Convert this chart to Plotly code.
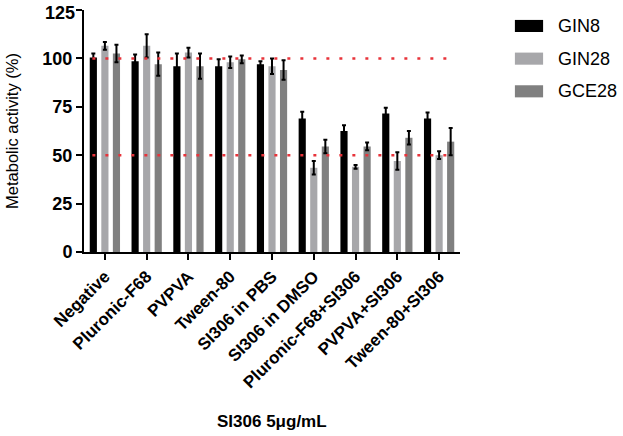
import plotly.graph_objects as go

categories = ["Negative", "Pluronic-F68", "PVPVA", "Tween-80", "SI306 in PBS",
              "SI306 in DMSO", "Pluronic-F68+SI306", "PVPVA+SI306", "Tween-80+SI306"]
series_names = ["GIN8", "GIN28", "GCE28"]
gin8 = [100.5, 98.5, 96, 96, 97, 69, 62.5, 71.5, 69]
gin8_err = [2, 3.5, 6.5, 3.5, 1.5, 3.5, 3, 3, 3]
gin28 = [106.5, 106.5, 103, 98, 96, 43.5, 44, 47, 50]
gin28_err = [2, 6, 2.5, 3, 4, 3.5, 1, 4.5, 2]
gce28 = [102.5, 97, 96, 99.5, 94, 54.5, 54.5, 59, 57]
gce28_err = [4.5, 6, 6.5, 2, 5, 3.5, 2, 3.5, 7]
colors = ["#000000", "#A7A7AA", "#808080"]
ref_lines = [100, 50]
y_ticks = [0, 25, 50, 75, 100, 125]
y_top = 125
y_ticktext = [str(v) if v != y_top else "" for v in y_ticks]

FONT = "Liberation Sans, Arial, sans-serif"

fig = go.Figure()
for name, vals, errs, col in zip(series_names, [gin8, gin28, gce28],
                                 [gin8_err, gin28_err, gce28_err], colors):
    fig.add_trace(go.Bar(
        x=categories, y=vals, name=name, marker=dict(color=col, line=dict(width=0)),
        error_y=dict(type="data", array=errs, color="#000000", thickness=2, width=2),
        showlegend=False,
    ))

for v in ref_lines:
    fig.add_shape(type="line", xref="x", yref="y", x0=-0.3, x1=8.35, y0=v, y1=v,
                  line=dict(color="#E8333A", width=2.5, dash="3px,10px"), layer="above")

# top tick label (plotly drops it at the very edge of the figure)
fig.add_annotation(xref="paper", yref="y", x=0, y=y_top, text="<b>%d</b>" % y_top,
                   showarrow=False, xanchor="right", yanchor="middle", xshift=-7, yshift=-3,
                   font=dict(family=FONT, size=18, color="#000"))

# legend (manual, to match the wide swatches of the reference)
leg_y = [0.934, 0.799, 0.664]
for name, col, yy in zip(series_names, colors, leg_y):
    fig.add_shape(type="rect", xref="paper", yref="paper", x0=1.146, x1=1.221,
                  y0=yy - 0.025, y1=yy + 0.025, fillcolor=col, line=dict(width=0))
    fig.add_annotation(xref="paper", yref="paper", x=1.255, y=yy, text=name,
                       showarrow=False, xanchor="left", yanchor="middle",
                       font=dict(family=FONT, size=18, color="#000"))

fig.add_annotation(xref="paper", yref="paper", x=0.5, y=-0.70, text="<b>SI306 5μg/mL</b>",
                   showarrow=False, xanchor="center", yanchor="middle",
                   font=dict(family=FONT, size=17, color="#000"))

fig.update_layout(
    width=623, height=436,
    margin=dict(l=84, r=163, t=10, b=184),
    plot_bgcolor="white", paper_bgcolor="white",
    barmode="group", bargap=0.17, bargroupgap=0.38,
    font=dict(family=FONT, color="#000"),
)
fig.update_xaxes(
    showline=True, linecolor="#000", linewidth=2, ticks="outside", ticklen=6,
    tickwidth=2, tickcolor="#000", tickangle=-45, automargin=False,
    tickfont=dict(size=17, weight="bold"), showgrid=False, range=[-0.5, 8.5],
)
fig.update_yaxes(
    range=[0, y_top], tickvals=y_ticks, ticktext=y_ticktext, showline=True,
    linecolor="#000", linewidth=2,
    ticks="outside", ticklen=6, tickwidth=2, tickcolor="#000", showgrid=False,
    zeroline=False, tickfont=dict(size=18, weight="bold"), automargin=False,
    title=dict(text="Metabolic activity (%)", font=dict(size=16.5), standoff=20),
)
fig.write_html("out.html", config={"displayModeBar": False},
               post_script="document.body.style.margin='0';")
